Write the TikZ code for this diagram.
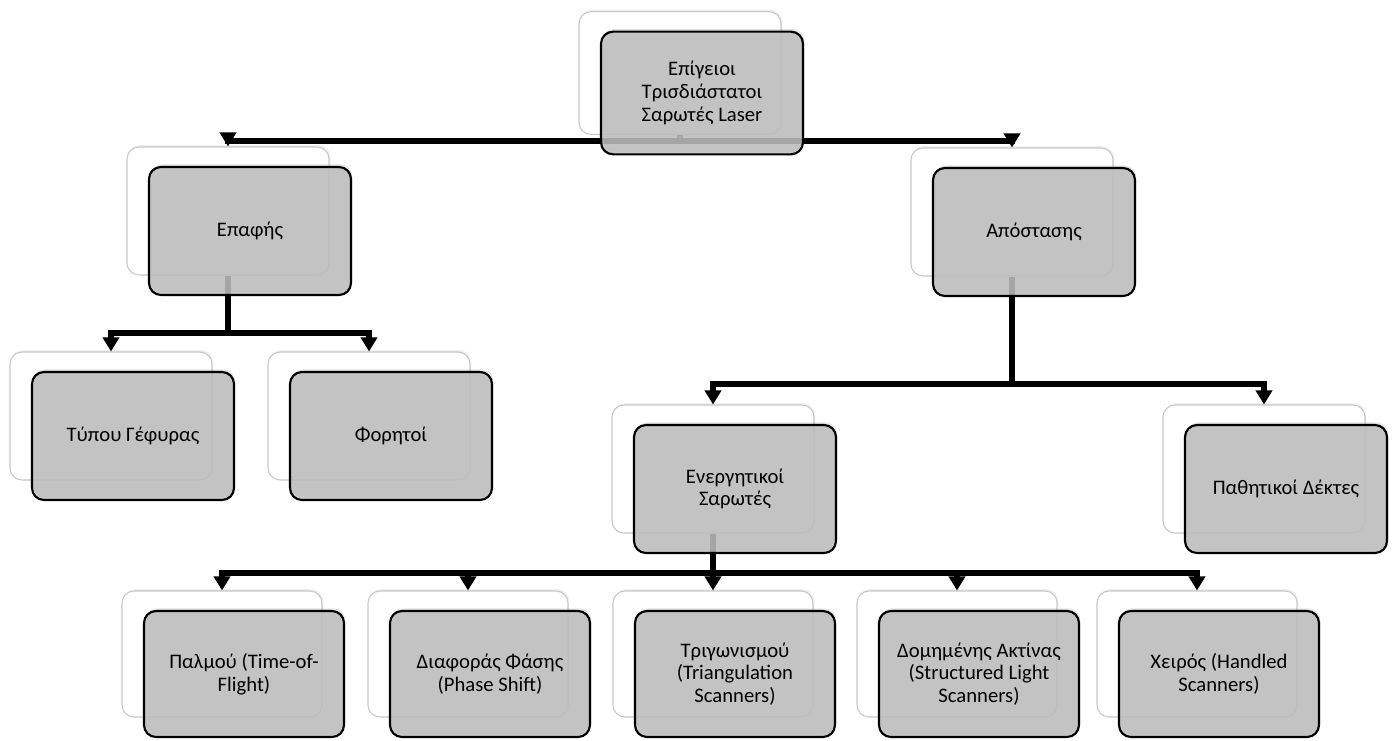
\documentclass[tikz,border=0pt]{standalone}
\usepackage{fontspec}
\setmainfont{Carlito}
\usetikzlibrary{arrows.meta,shadows}
\definecolor{boxgray}{RGB}{190,190,190}

\begin{document}
\begin{tikzpicture}[x=0.75pt,y=0.75pt,yscale=-1,xscale=1,
  backbox/.style={draw=black!22, line width=0.8pt, fill=white, rounded corners=9pt,
    minimum width=151.5pt, minimum height=96pt, inner sep=0pt,
    drop shadow={opacity=0.12, shadow xshift=1pt, shadow yshift=1.5pt}},
  frontbox/.style={draw=black, line width=1.6pt, fill=boxgray, fill opacity=0.85, text opacity=1,
    rounded corners=9pt, minimum width=151.5pt, minimum height=96pt, inner sep=2pt,
    align=center, text=black, font=\fontsize{15.5}{17}\selectfont,
    drop shadow={opacity=0.2, shadow xshift=1pt, shadow yshift=2pt}},
  lowrow/.style={minimum width=150pt, minimum height=94.5pt},
  conn/.style={line width=4.5pt},
  arr/.style={conn, -{Triangle[width=12pt,length=10.5pt]}}]
\useasboundingbox (0,0) rectangle (1396,740);

%Shape: back boxes
\node[backbox, minimum height=92pt] (root) at (680,73) {};
\node[backbox] (epafi) at (228,211) {};
\node[backbox] (apost) at (1012,212) {};
\node[backbox] (gefyra) at (111,416) {};
\node[backbox] (foritoi) at (369,416) {};
\node[backbox] (energ) at (713,469) {};
\node[backbox] (pathit) at (1264,469) {};
\node[backbox, lowrow] (palmos) at (222,654) {};
\node[backbox, lowrow] (fasi) at (468,654) {};
\node[backbox, lowrow] (trigon) at (713,654) {};
\node[backbox, lowrow] (domi) at (957,654) {};
\node[backbox, lowrow] (xeir) at (1197,654) {};

%Straight Lines: connectors
\coordinate (j0) at (680,141);
\draw[conn] (root.south) -- (j0);
\draw[arr] (j0) -| (epafi.north);
\draw[arr] (j0) -| (apost.north);

\coordinate (j1) at (228,333);
\draw[conn] (epafi.south) -- (j1);
\draw[arr] (j1) -| (gefyra.north);
\draw[arr] (j1) -| (foritoi.north);

\coordinate (j2) at (1012,384);
\draw[conn] (apost.south) -- (j2);
\draw[arr] (j2) -| (energ.north);
\draw[arr] (j2) -| (pathit.north);

\coordinate (j3) at (713,573);
\draw[conn] (energ.south) -- (j3);
\draw[arr] (j3) -| (palmos.north);
\draw[arr] (j3) -| (fasi.north);
\draw[arr] (j3) -- (trigon.north);
\draw[arr] (j3) -| (domi.north);
\draw[arr] (j3) -| (xeir.north);

% Text Node: front boxes
\node[frontbox, minimum height=92pt] (root-f) at ([shift={(22,20)}]root.center) {Επίγειοι\\Τρισδιάστατοι\\Σαρωτές Laser};
\node[frontbox] (epafi-f) at ([shift={(22,20)}]epafi.center) {Επαφής};
\node[frontbox] (apost-f) at ([shift={(22,20)}]apost.center) {Απόστασης};
\node[frontbox] (gefyra-f) at ([shift={(22,20)}]gefyra.center) {Τύπου Γέφυρας};
\node[frontbox] (foritoi-f) at ([shift={(22,20)}]foritoi.center) {Φορητοί};
\node[frontbox] (energ-f) at ([shift={(22,20)}]energ.center) {Ενεργητικοί\\Σαρωτές};
\node[frontbox] (pathit-f) at ([shift={(22,20)}]pathit.center) {Παθητικοί Δέκτες};
\node[frontbox, lowrow] (palmos-f) at ([shift={(22,20)}]palmos.center) {Παλμού (Time-of-\\Flight)};
\node[frontbox, lowrow] (fasi-f) at ([shift={(22,20)}]fasi.center) {Διαφοράς Φάσης\\(Phase Shift)};
\node[frontbox, lowrow] (trigon-f) at ([shift={(22,20)}]trigon.center) {Τριγωνισμού\\(Triangulation\\Scanners)};
\node[frontbox, lowrow] (domi-f) at ([shift={(22,20)}]domi.center) {Δομημένης Ακτίνας\\(Structured Light\\Scanners)};
\node[frontbox, lowrow] (xeir-f) at ([shift={(22,20)}]xeir.center) {Χειρός (Handled\\Scanners)};

\end{tikzpicture}
\end{document}
